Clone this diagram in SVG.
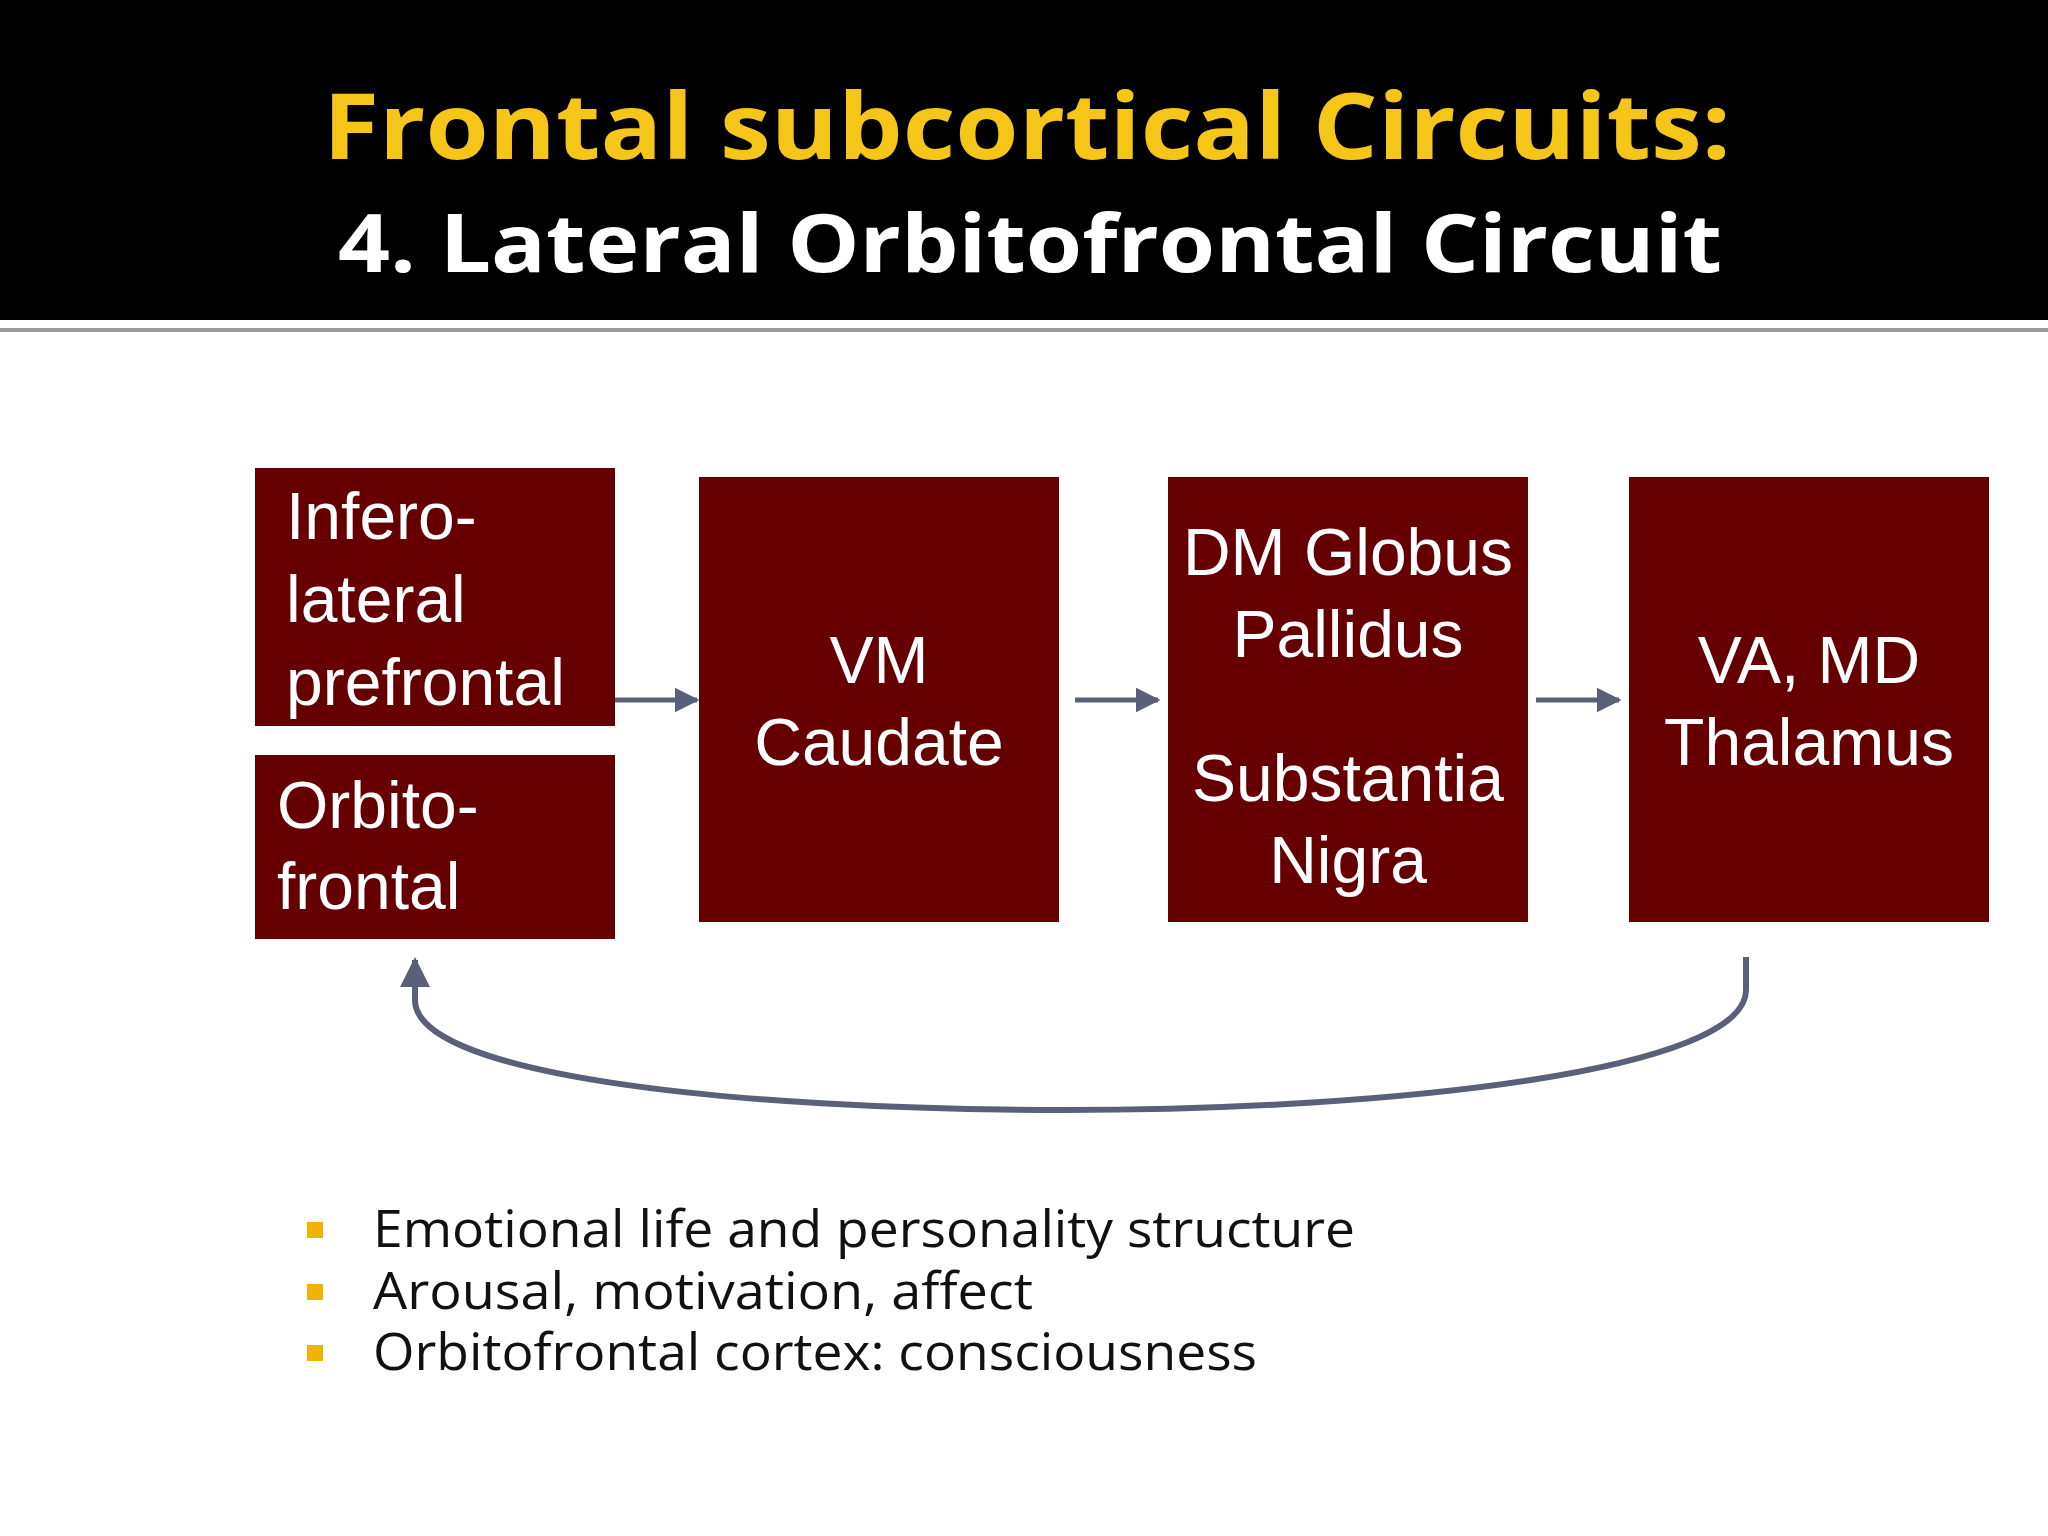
<svg xmlns="http://www.w3.org/2000/svg" width="2048" height="1536" viewBox="0 0 2048 1536">
<defs>
<style>
.box{fill:#660000}
.t{font-family:"Liberation Sans",Arial,sans-serif;font-size:66px;fill:#fff}
.c{text-anchor:middle}
.b{font-family:"Open Sans","DejaVu Sans",sans-serif;font-size:52px;fill:#111}
.con{stroke:#5a6078;stroke-width:5;fill:none}
</style>
<marker id="ah" viewBox="0 0 10 10" refX="9" refY="5" markerWidth="5" markerHeight="5" orient="auto" markerUnits="strokeWidth"><path d="M0,0 L10,5 L0,10 z" fill="#5a6078"/></marker>
</defs>
<rect width="2048" height="1536" fill="#fff"/>
<rect width="2048" height="320" fill="#000"/>
<rect y="328" width="2048" height="4" fill="#9a9a9a"/>
<text x="1027" y="159" text-anchor="middle" font-family="Open Sans,DejaVu Sans,sans-serif" font-weight="bold" font-size="92" fill="#f5c518" textLength="1408" lengthAdjust="spacingAndGlyphs">Frontal subcortical Circuits:</text>
<text x="1030" y="272" text-anchor="middle" font-family="Open Sans,DejaVu Sans,sans-serif" font-weight="bold" font-size="80" fill="#fff" textLength="1384" lengthAdjust="spacingAndGlyphs">4. Lateral Orbitofrontal Circuit</text>
<g id="n1"><rect class="box" x="255" y="468" width="360" height="258"/>
<text class="t" x="286" y="539">Infero-</text><text class="t" x="286" y="622">lateral</text><text class="t" x="286" y="705">prefrontal</text></g>
<g id="n2"><rect class="box" x="255" y="755" width="360" height="184"/>
<text class="t" x="277" y="828">Orbito-</text><text class="t" x="277" y="909">frontal</text></g>
<g id="n3"><rect class="box" x="699" y="477" width="360" height="445"/>
<text class="t c" x="879" y="683">VM</text><text class="t c" x="879" y="765">Caudate</text></g>
<g id="n4"><rect class="box" x="1168" y="477" width="360" height="445"/>
<text class="t c" x="1348" y="575">DM Globus</text><text class="t c" x="1348" y="657">Pallidus</text>
<text class="t c" x="1348" y="801">Substantia</text><text class="t c" x="1348" y="883">Nigra</text></g>
<g id="n5"><rect class="box" x="1629" y="477" width="360" height="445"/>
<text class="t c" x="1809" y="683">VA, MD</text><text class="t c" x="1809" y="765">Thalamus</text></g>
<g id="connectors">
<line class="con" x1="615" y1="700" x2="697" y2="700" marker-end="url(#ah)"/>
<line class="con" x1="1075" y1="700" x2="1158" y2="700" marker-end="url(#ah)"/>
<line class="con" x1="1536" y1="700" x2="1619" y2="700" marker-end="url(#ah)"/>
<path class="con" style="stroke-width:6" d="M1746,957 L1746,990 C1746,1070 1400,1110 1064,1110 C730,1110 415,1075 415,1000 L415,960" marker-end="url(#ah)"/>
</g>
<g id="bullets">
<rect x="307" y="1222" width="16" height="16" fill="#f0b400"/>
<rect x="307" y="1284" width="16" height="16" fill="#f0b400"/>
<rect x="307" y="1345" width="16" height="16" fill="#f0b400"/>
<text class="b" x="373" y="1247" textLength="982" lengthAdjust="spacingAndGlyphs">Emotional life and personality structure</text>
<text class="b" x="373" y="1309" textLength="660" lengthAdjust="spacingAndGlyphs">Arousal, motivation, affect</text>
<text class="b" x="373" y="1370" textLength="884" lengthAdjust="spacingAndGlyphs">Orbitofrontal cortex: consciousness</text>
</g>
</svg>
